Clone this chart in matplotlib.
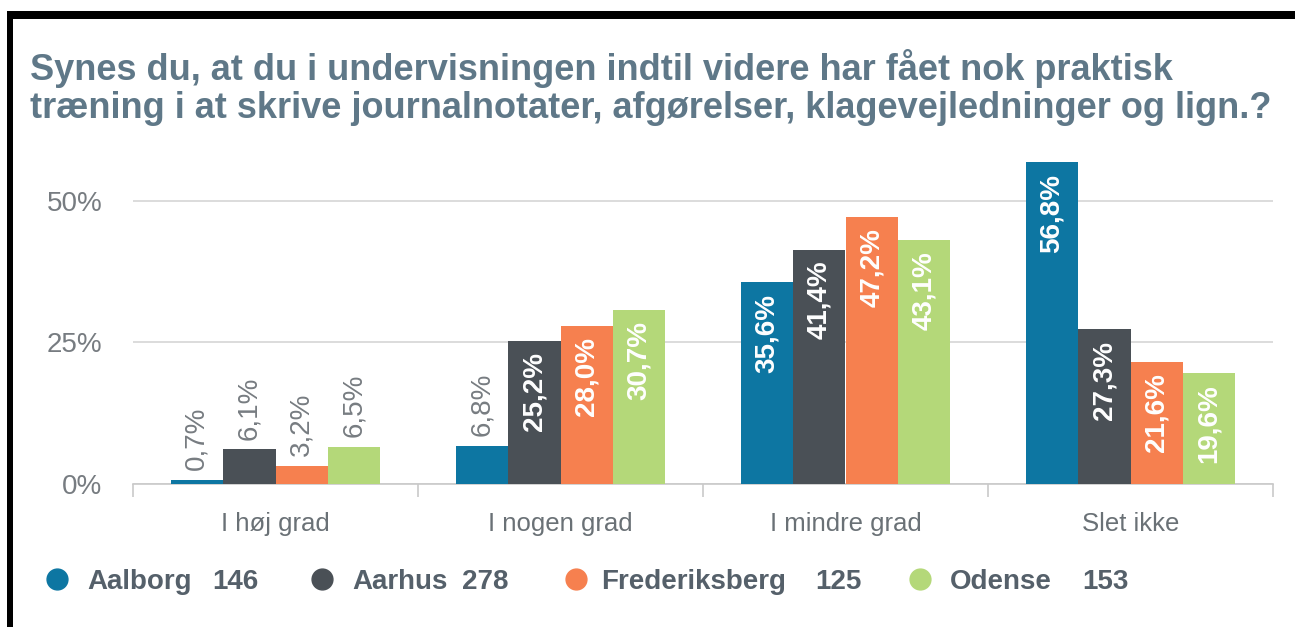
import numpy as np
import matplotlib
matplotlib.use("Agg")
import matplotlib.pyplot as plt
from matplotlib.patches import Rectangle
from matplotlib.lines import Line2D

plt.rcParams["font.family"] = ["Liberation Sans", "DejaVu Sans"]

# data
categories = ["I høj grad", "I nogen grad", "I mindre grad", "Slet ikke"]
schools = ["Aalborg", "Aarhus", "Frederiksberg", "Odense"]
counts = [146, 278, 125, 153]
aalborg = [0.7, 6.8, 35.6, 56.8]
aarhus = [6.1, 25.2, 41.4, 27.3]
frederiksberg = [3.2, 28.0, 47.2, 21.6]
odense = [6.5, 30.7, 43.1, 19.6]
series = [aalborg, aarhus, frederiksberg, odense]
yticks = [0, 25, 50]

colors = ["#0d76a2", "#4a5056", "#f6804f", "#b4d879"]
title_color = "#5f7888"
tick_color = "#777c81"
legend_color = "#55606a"

W, H = 1295, 627
fig = plt.figure(figsize=(W / 100, H / 100), dpi=100)
fig.patch.set_facecolor("white")

# black frame (left and top only)
fig.patches.append(Rectangle((7 / W, 0), 6 / W, (H - 11) / H, transform=fig.transFigure,
                             facecolor="black", edgecolor="none"))
fig.patches.append(Rectangle((7 / W, (H - 19) / H), (W - 7) / W, 8 / H, transform=fig.transFigure,
                             facecolor="black", edgecolor="none"))

ax = fig.add_axes([133 / W, 143 / H, 1140 / W, 330 / H])
ax.set_xlim(-0.5, len(categories) - 0.5)
ax.set_ylim(0, 58.3)

x = np.arange(len(categories))
bw = 0.184
for i, vals in enumerate(series):
    pos = x + (i - 1.5) * bw
    ax.bar(pos, vals, width=bw, color=colors[i], linewidth=0, zorder=3)
    for px, v in zip(pos, vals):
        txt = f"{v:.1f}%".replace(".", ",")
        if v < 10:
            ax.annotate(txt, (px, v), xytext=(0, 7), textcoords="offset points",
                        rotation=90, ha="center", va="bottom", fontsize=20,
                        color=tick_color, zorder=4)
        else:
            ax.annotate(txt, (px, v), xytext=(0, -8), textcoords="offset points",
                        rotation=90, ha="center", va="top", fontsize=20,
                        fontweight="bold", color="white", zorder=4)

# axes styling
for s in ["top", "right", "left"]:
    ax.spines[s].set_visible(False)
ax.spines["bottom"].set_color("#c9c9c9")
ax.spines["bottom"].set_linewidth(1.2)
ax.set_yticks(yticks)
ax.set_yticklabels([f"{t}%" for t in yticks])
ax.tick_params(axis="y", length=0, pad=22, labelsize=20, labelcolor=tick_color)
ax.yaxis.grid(True, color="#d6d6d6", linewidth=1.2, zorder=0)
ax.set_xticks(x)
ax.set_xticklabels(categories)
ax.tick_params(axis="x", which="major", length=0, pad=20, labelsize=18.5, labelcolor="#6a7176")
ax.set_xticks(np.arange(len(categories) + 1) - 0.5, minor=True)
ax.tick_params(axis="x", which="minor", length=9, color="#c9c9c9", width=1.2)

# title
fig.text(30 / W, 1 - 49 / H,
         "Synes du, at du i undervisningen indtil videre har fået nok praktisk\n"
         "træning i at skrive journalnotater, afgørelser, klagevejledninger og lign.?",
         ha="left", va="top", fontsize=26, fontweight="bold", color=title_color,
         linespacing=1.1)

# legend drawn by hand
mark_x = [57, 322, 576, 920]
name_x = [87, 352, 601, 950]
num_x = [212, 462, 815, 1082]
ly = 1 - 579 / H
for i, name in enumerate(schools):
    fig.add_artist(Line2D([mark_x[i] / W], [ly], marker="o", markersize=15,
                          color=colors[i], linestyle="none", transform=fig.transFigure))
    fig.text(name_x[i] / W, ly, name, ha="left", va="center_baseline",
             fontsize=20, fontweight="bold", color=legend_color)
    fig.text(num_x[i] / W, ly, str(counts[i]), ha="left", va="center_baseline",
             fontsize=20, fontweight="bold", color=legend_color)

fig.savefig("out.png", dpi=100)
